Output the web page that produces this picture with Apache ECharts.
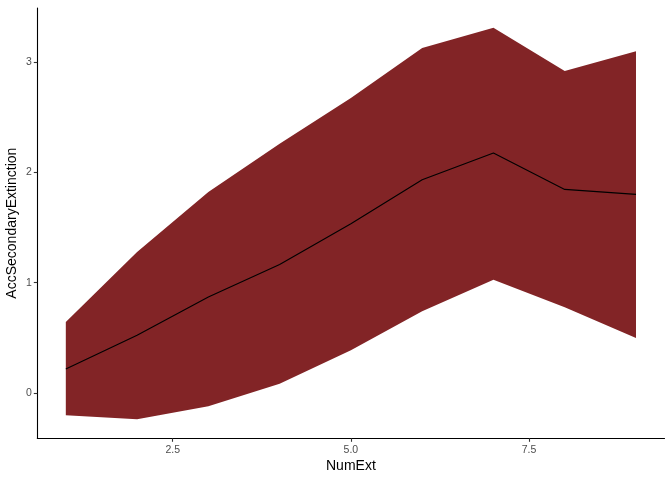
<!DOCTYPE html>
<html><head><meta charset="utf-8">
<script src="https://cdn.jsdelivr.net/npm/echarts@6/dist/echarts.min.js"></script>
<style>html,body{margin:0;padding:0;background:#fff}#c{width:672px;height:480px}</style>
</head><body><div id="c"></div>
<script>
var numExt = [1, 2, 3, 4, 5, 6, 7, 8, 9];
var meanVals = [0.218, 0.523, 0.870, 1.165, 1.535, 1.934, 2.175, 1.846, 1.801];
var upperVals = [0.644, 1.278, 1.822, 2.260, 2.675, 3.127, 3.311, 2.918, 3.097];
var lowerVals = [-0.202, -0.238, -0.120, 0.085, 0.387, 0.742, 1.028, 0.778, 0.499];
var xTicks = [2.5, 5.0, 7.5];
var yTicks = [0, 1, 2, 3];

var fillColor = '#822426';
var bandData = numExt.map(function(x, i){ return [x, lowerVals[i], upperVals[i]]; });
var meanData = numExt.map(function(x, i){ return [x, meanVals[i]]; });

var chart = echarts.init(document.getElementById('c'), null, {renderer: 'canvas'});
var labelFont = {color: '#4d4d4d', fontSize: 10.5, fontFamily: 'Liberation Sans, Arial, sans-serif'};
var nameFont = {color: '#000', fontSize: 14, fontFamily: 'Liberation Sans, Arial, sans-serif'};
chart.setOption({
  animation: false,
  backgroundColor: '#ffffff',
  grid: {left: 37.3, right: 7.5, top: 8, bottom: 41.7, containLabel: false, outerBoundsMode: 'none'},
  xAxis: {
    type: 'value', min: 0.6, max: 9.4,
    name: 'NumExt', nameLocation: 'middle', nameGap: 20.5, nameMoveOverlap: false,
    nameTextStyle: nameFont,
    splitLine: {show: false},
    axisLine: {show: true, onZero: false, lineStyle: {color: '#000', width: 1.1}},
    axisTick: {show: true, length: 3.5, customValues: xTicks, lineStyle: {color: '#333', width: 1.1}},
    axisLabel: Object.assign({customValues: xTicks, margin: 6.5, formatter: function(v){ return v.toFixed(1); }}, labelFont)
  },
  yAxis: {
    type: 'value', min: -0.41, max: 3.49,
    name: 'AccSecondaryExtinction', nameLocation: 'middle', nameGap: 18, nameMoveOverlap: false,
    nameTextStyle: nameFont,
    splitLine: {show: false},
    axisLine: {show: true, onZero: false, lineStyle: {color: '#000', width: 1.1}},
    axisTick: {show: true, length: 3.5, customValues: yTicks, lineStyle: {color: '#333', width: 1.1}},
    axisLabel: Object.assign({customValues: yTicks, margin: 5.5, formatter: function(v){ return String(v); }}, labelFont)
  },
  series: [
    {type: 'custom', data: bandData, silent: true, z: 1,
     encode: {x: 0, y: [1, 2]},
     renderItem: function(params, api){
       if (params.dataIndex !== 0) return null;
       var top = [], bot = [];
       for (var i = 0; i < bandData.length; i++) {
         top.push(api.coord([bandData[i][0], bandData[i][2]]));
         bot.unshift(api.coord([bandData[i][0], bandData[i][1]]));
       }
       return {type: 'polygon', shape: {points: top.concat(bot)}, style: {fill: fillColor}};
     }},
    {type: 'line', data: meanData, symbol: 'none', z: 2, lineStyle: {color: '#000', width: 1.1}, silent: true}
  ]
});
</script></body></html>
